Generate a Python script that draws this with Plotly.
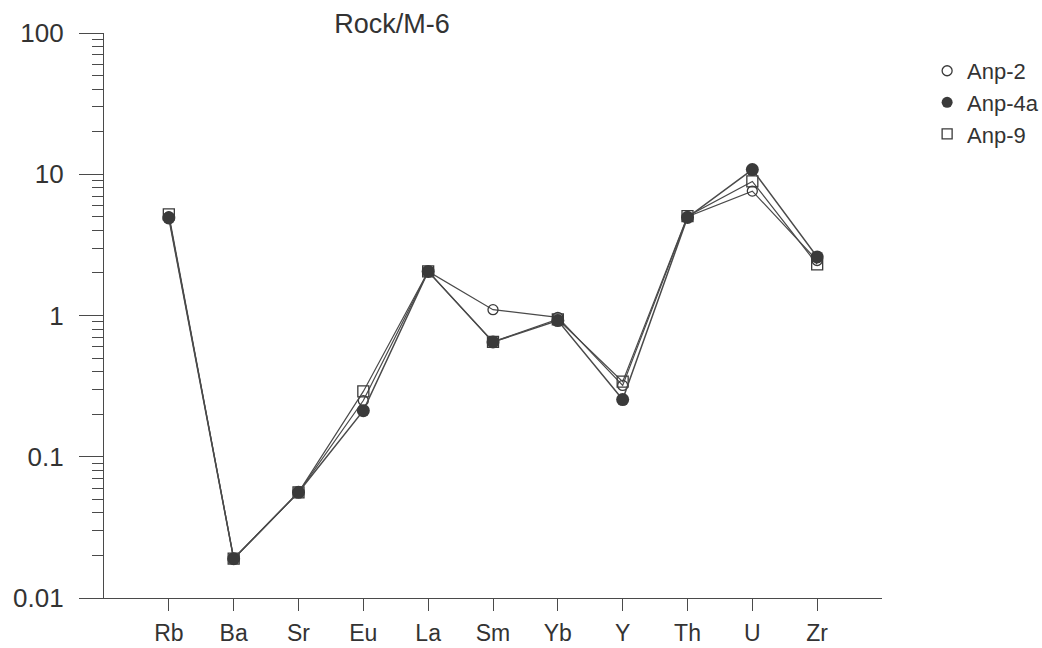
import plotly.graph_objects as go

elements = ["Rb", "Ba", "Sr", "Eu", "La", "Sm", "Yb", "Y", "Th", "U", "Zr"]
anp_2 = [5.0, 0.019, 0.056, 0.25, 2.05, 1.10, 0.97, 0.32, 5.0, 7.6, 2.45]
anp_4a = [4.9, 0.019, 0.056, 0.212, 2.05, 0.65, 0.92, 0.254, 4.95, 10.8, 2.6]
anp_9 = [5.2, 0.019, 0.056, 0.29, 2.05, 0.65, 0.94, 0.34, 5.05, 8.9, 2.3]
major_ticks = [0.01, 0.1, 1, 10, 100]
major_labels = ["0.01", "0.1", "1", "10", "100"]
minor_ticks = [m * d for d in [0.01, 0.1, 1, 10] for m in range(2, 10)]

FONT = "Liberation Sans, Arial, sans-serif"
DARK = "#3a3a3a"
LINE = "#4a4a4a"
TXT = "#333333"

series = [
    ("Anp-2", anp_2, dict(symbol="circle-open", size=10, color=DARK, line=dict(width=1.3)), 1.2),
    ("Anp-9", anp_9, dict(symbol="square-open", size=11, color=DARK, line=dict(width=1.3)), 1.2),
    ("Anp-4a", anp_4a, dict(symbol="circle", size=13, color=DARK), 1.5),
]
legend_rank = {"Anp-2": 1, "Anp-4a": 2, "Anp-9": 3}

fig = go.Figure()
for name, vals, mk, lw in series:
    fig.add_trace(go.Scatter(x=elements, y=vals, name=name, mode="lines+markers",
                             line=dict(color=LINE, width=lw), marker=mk, showlegend=False))
for name, vals, mk, lw in series:
    legend_mk = dict(mk)
    legend_mk["size"] = 11 if "circle" == mk["symbol"] else 10
    fig.add_trace(go.Scatter(x=[None], y=[None], name=name, mode="markers",
                             marker=legend_mk, showlegend=True, legendrank=legend_rank[name]))

fig.add_shape(type="line", xref="paper", x0=0, x1=1, yref="y", y0=0, y1=0,
              line=dict(color=LINE, width=1.3), layer="below")

fig.update_layout(
    width=1042, height=648,
    margin=dict(l=104, r=160, t=33, b=50, autoexpand=False),
    paper_bgcolor="white", plot_bgcolor="white",
    font=dict(family=FONT, size=23, color=TXT),
    title=dict(text="Rock/M-6", x=392 / 1042, xanchor="center", y=1 - 24 / 648, yanchor="middle",
               font=dict(size=27, family=FONT, color=TXT)),
    showlegend=True,
    legend=dict(x=1.058, y=0.97, xanchor="left", yanchor="top", traceorder="normal",
                font=dict(size=22, family=FONT, color=TXT), bgcolor="rgba(0,0,0,0)",
                tracegroupgap=0),
    xaxis=dict(type="category", categoryorder="array", categoryarray=elements,
               range=[-1, 11], showline=True, linecolor=LINE, linewidth=1.3,
               ticks="outside", ticklen=12, tickcolor=LINE, tickwidth=1.2,
               ticklabelstandoff=2,
               showgrid=False, zeroline=False, tickfont=dict(size=23)),
    yaxis=dict(type="log", range=[-2, 2], showline=True, linecolor=LINE, linewidth=1.3,
               tickmode="array", tickvals=major_ticks, ticktext=major_labels,
               ticks="outside", ticklen=24, tickcolor=LINE, tickwidth=1.2,
               ticklabelstandoff=10,
               minor=dict(tickmode="array", tickvals=minor_ticks, ticks="outside", ticklen=11,
                          tickcolor=LINE, tickwidth=1.2, showgrid=False),
               showgrid=False, zeroline=False, tickfont=dict(size=26)),
)

fig.write_html("out.html", config={"displayModeBar": False},
               post_script="document.body.style.margin='0px';document.body.style.overflow='hidden';")
